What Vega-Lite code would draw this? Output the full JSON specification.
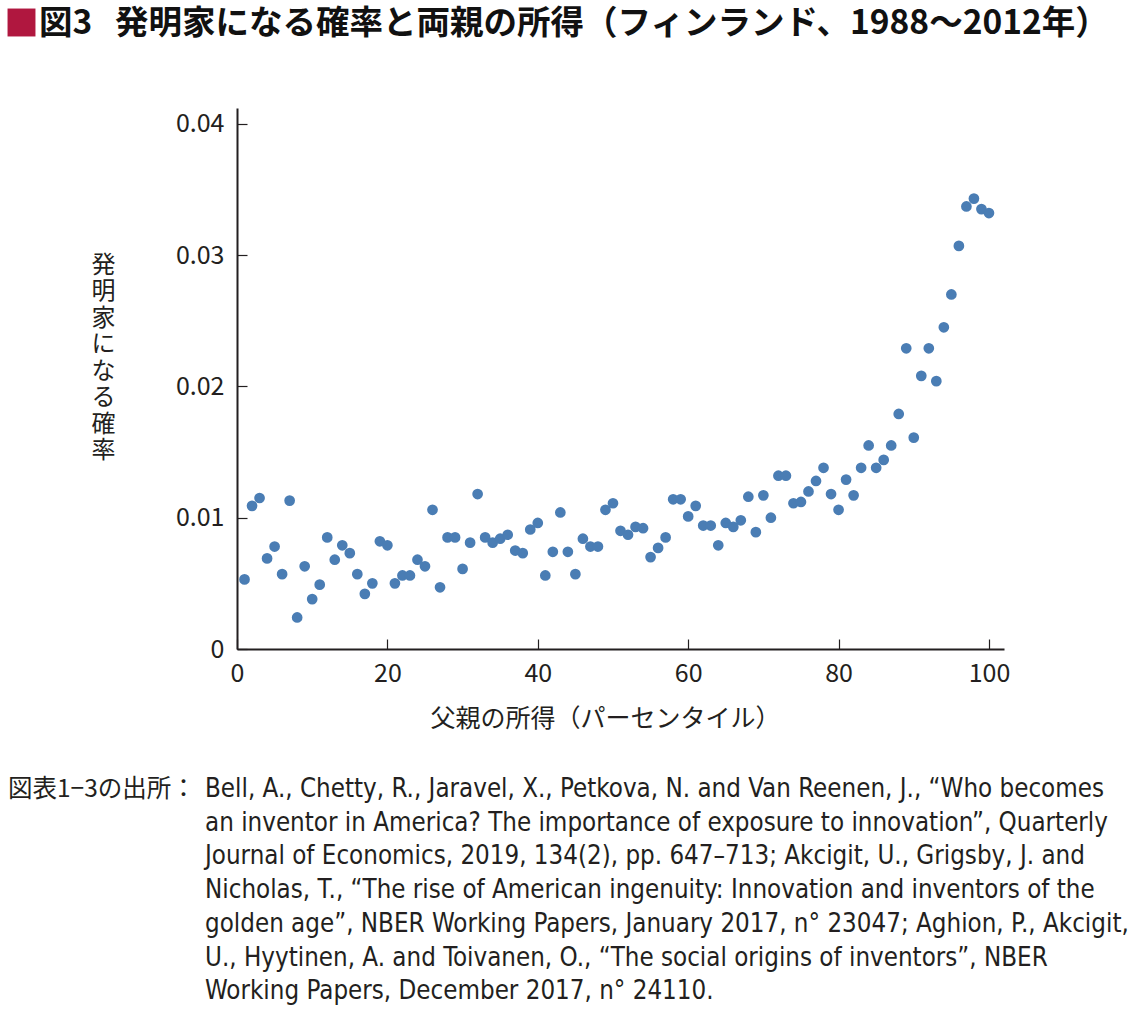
{
  "$schema": "https://vega.github.io/schema/vega-lite/v6.json",
  "autosize": {"type": "none"},
  "width": 767,
  "height": 541,
  "padding": {"left": 237, "top": 108, "right": 136, "bottom": 364},
  "background": "white",
  "config": {
    "view": {"stroke": null},
    "font": "Noto Sans CJK JP",
    "text": {"font": "Noto Sans CJK JP", "color": "#231f20"}
  },
  "layer": [
    {
      "data": {
        "values": [
          {"percentile": 1, "probability": 0.0053},
          {"percentile": 2, "probability": 0.0109},
          {"percentile": 3, "probability": 0.0115},
          {"percentile": 4, "probability": 0.0069},
          {"percentile": 5, "probability": 0.0078},
          {"percentile": 6, "probability": 0.0057},
          {"percentile": 7, "probability": 0.0113},
          {"percentile": 8, "probability": 0.0024},
          {"percentile": 9, "probability": 0.0063},
          {"percentile": 10, "probability": 0.0038},
          {"percentile": 11, "probability": 0.0049},
          {"percentile": 12, "probability": 0.0085},
          {"percentile": 13, "probability": 0.0068},
          {"percentile": 14, "probability": 0.0079},
          {"percentile": 15, "probability": 0.0073},
          {"percentile": 16, "probability": 0.0057},
          {"percentile": 17, "probability": 0.0042},
          {"percentile": 18, "probability": 0.0050},
          {"percentile": 19, "probability": 0.0082},
          {"percentile": 20, "probability": 0.0079},
          {"percentile": 21, "probability": 0.0050},
          {"percentile": 22, "probability": 0.0056},
          {"percentile": 23, "probability": 0.0056},
          {"percentile": 24, "probability": 0.0068},
          {"percentile": 25, "probability": 0.0063},
          {"percentile": 26, "probability": 0.0106},
          {"percentile": 27, "probability": 0.0047},
          {"percentile": 28, "probability": 0.0085},
          {"percentile": 29, "probability": 0.0085},
          {"percentile": 30, "probability": 0.0061},
          {"percentile": 31, "probability": 0.0081},
          {"percentile": 32, "probability": 0.0118},
          {"percentile": 33, "probability": 0.0085},
          {"percentile": 34, "probability": 0.0081},
          {"percentile": 35, "probability": 0.0084},
          {"percentile": 36, "probability": 0.0087},
          {"percentile": 37, "probability": 0.0075},
          {"percentile": 38, "probability": 0.0073},
          {"percentile": 39, "probability": 0.0091},
          {"percentile": 40, "probability": 0.0096},
          {"percentile": 41, "probability": 0.0056},
          {"percentile": 42, "probability": 0.0074},
          {"percentile": 43, "probability": 0.0104},
          {"percentile": 44, "probability": 0.0074},
          {"percentile": 45, "probability": 0.0057},
          {"percentile": 46, "probability": 0.0084},
          {"percentile": 47, "probability": 0.0078},
          {"percentile": 48, "probability": 0.0078},
          {"percentile": 49, "probability": 0.0106},
          {"percentile": 50, "probability": 0.0111},
          {"percentile": 51, "probability": 0.0090},
          {"percentile": 52, "probability": 0.0087},
          {"percentile": 53, "probability": 0.0093},
          {"percentile": 54, "probability": 0.0092},
          {"percentile": 55, "probability": 0.0070},
          {"percentile": 56, "probability": 0.0077},
          {"percentile": 57, "probability": 0.0085},
          {"percentile": 58, "probability": 0.0114},
          {"percentile": 59, "probability": 0.0114},
          {"percentile": 60, "probability": 0.0101},
          {"percentile": 61, "probability": 0.0109},
          {"percentile": 62, "probability": 0.0094},
          {"percentile": 63, "probability": 0.0094},
          {"percentile": 64, "probability": 0.0079},
          {"percentile": 65, "probability": 0.0096},
          {"percentile": 66, "probability": 0.0093},
          {"percentile": 67, "probability": 0.0098},
          {"percentile": 68, "probability": 0.0116},
          {"percentile": 69, "probability": 0.0089},
          {"percentile": 70, "probability": 0.0117},
          {"percentile": 71, "probability": 0.0100},
          {"percentile": 72, "probability": 0.0132},
          {"percentile": 73, "probability": 0.0132},
          {"percentile": 74, "probability": 0.0111},
          {"percentile": 75, "probability": 0.0112},
          {"percentile": 76, "probability": 0.0120},
          {"percentile": 77, "probability": 0.0128},
          {"percentile": 78, "probability": 0.0138},
          {"percentile": 79, "probability": 0.0118},
          {"percentile": 80, "probability": 0.0106},
          {"percentile": 81, "probability": 0.0129},
          {"percentile": 82, "probability": 0.0117},
          {"percentile": 83, "probability": 0.0138},
          {"percentile": 84, "probability": 0.0155},
          {"percentile": 85, "probability": 0.0138},
          {"percentile": 86, "probability": 0.0144},
          {"percentile": 87, "probability": 0.0155},
          {"percentile": 88, "probability": 0.0179},
          {"percentile": 89, "probability": 0.0229},
          {"percentile": 90, "probability": 0.0161},
          {"percentile": 91, "probability": 0.0208},
          {"percentile": 92, "probability": 0.0229},
          {"percentile": 93, "probability": 0.0204},
          {"percentile": 94, "probability": 0.0245},
          {"percentile": 95, "probability": 0.0270},
          {"percentile": 96, "probability": 0.0307},
          {"percentile": 97, "probability": 0.0337},
          {"percentile": 98, "probability": 0.0343},
          {"percentile": 99, "probability": 0.0335},
          {"percentile": 100, "probability": 0.0332}
        ]
      },
      "mark": {"type": "circle", "size": 115, "color": "#4a7db4", "opacity": 1},
      "encoding": {
        "x": {
          "field": "percentile",
          "type": "quantitative",
          "scale": {"domain": [0, 102], "nice": false, "zero": true},
          "axis": {
            "values": [0, 20, 40, 60, 80, 100],
            "grid": false,
            "domainColor": "#231f20",
            "domainWidth": 2,
            "tickColor": "#231f20",
            "tickWidth": 1.2,
            "tickSize": -10,
            "labelPadding": 22,
            "labelFont": "Noto Sans CJK JP",
            "labelFontSize": 25,
            "labelColor": "#231f20",
            "labelFlush": false,
            "title": "父親の所得（パーセンタイル）",
            "titleFont": "Noto Sans CJK JP",
            "titleFontSize": 25,
            "titleFontWeight": "normal",
            "titleColor": "#231f20",
            "titleX": 368,
            "titleY": 69,
            "titleBaseline": "middle",
            "titleAlign": "center"
          }
        },
        "y": {
          "field": "probability",
          "type": "quantitative",
          "scale": {"domain": [0, 0.0412], "nice": false},
          "axis": {
            "values": [0, 0.01, 0.02, 0.03, 0.04],
            "format": "~g",
            "grid": false,
            "domainColor": "#231f20",
            "domainWidth": 2,
            "tickColor": "#231f20",
            "tickWidth": 1.2,
            "tickSize": -10,
            "labelPadding": 23,
            "labelFont": "Noto Sans CJK JP",
            "labelFontSize": 25,
            "labelColor": "#231f20",
            "labelFlush": false,
            "title": ["発", "明", "家", "に", "な", "る", "確", "率"],
            "titleFont": "Noto Sans CJK JP",
            "titleFontSize": 24,
            "titleFontWeight": "normal",
            "titleColor": "#231f20",
            "titleAngle": 0,
            "titleLineHeight": 26.5,
            "titleX": -134,
            "titleY": 157,
            "titleAlign": "center",
            "titleBaseline": "middle"
          }
        }
      }
    },
    {
      "data": {"values": [{}]},
      "mark": {"type": "square", "size": 780, "color": "#b0173f", "opacity": 1},
      "encoding": {"x": {"value": -215.5}, "y": {"value": -85.5}}
    },
    {
      "data": {"values": [{}]},
      "mark": {
        "type": "text",
        "text": "図3\u00a0\u00a0\u00a0発明家になる確率と両親の所得（フィンランド、1988〜2012年）",
        "font": "Noto Sans CJK JP",
        "fontSize": 33.5,
        "fontWeight": "bold",
        "align": "left",
        "baseline": "middle",
        "color": "#111111"
      },
      "encoding": {"x": {"value": -198}, "y": {"value": -84}}
    },
    {
      "data": {"values": [{}]},
      "mark": {
        "type": "text",
        "text": "図表1−3の出所：",
        "font": "Noto Sans CJK JP",
        "fontSize": 24.5,
        "align": "left",
        "baseline": "alphabetic",
        "color": "#231f20"
      },
      "encoding": {"x": {"value": -229}, "y": {"value": 689}}
    },
    {
      "data": {"values": [{}]},
      "mark": {
        "type": "text",
        "text": [
          "Bell, A., Chetty, R., Jaravel, X., Petkova, N. and Van Reenen, J., “Who becomes",
          "an inventor in America? The importance of exposure to innovation”, Quarterly",
          "Journal of Economics, 2019, 134(2), pp. 647–713; Akcigit, U., Grigsby, J. and",
          "Nicholas, T., “The rise of American ingenuity: Innovation and inventors of the",
          "golden age”, NBER Working Papers, January 2017, n° 23047; Aghion, P., Akcigit,",
          "U., Hyytinen, A. and Toivanen, O., “The social origins of inventors”, NBER",
          "Working Papers, December 2017, n° 24110."
        ],
        "font": "DejaVu Sans Condensed, Roboto, sans-serif",
        "fontSize": 25.7,
        "lineHeight": 33.7,
        "align": "left",
        "baseline": "alphabetic",
        "color": "#231f20"
      },
      "encoding": {"x": {"value": -32}, "y": {"value": 689}}
    }
  ]
}
